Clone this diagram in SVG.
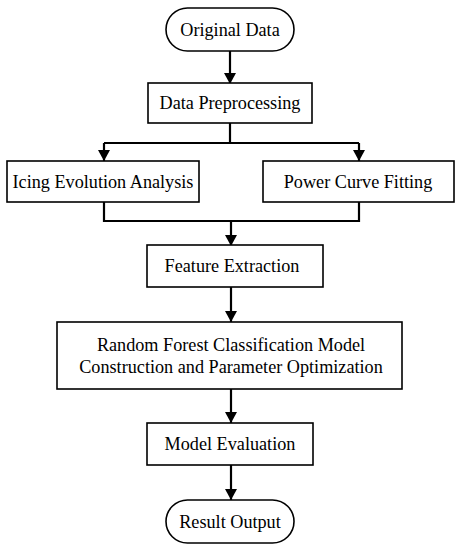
<svg xmlns="http://www.w3.org/2000/svg" width="461" height="550" viewBox="0 0 461 550">
<style>
.box{fill:#fff;stroke:#000;stroke-width:1.6}
.t{font-family:"Liberation Serif","Times New Roman",serif;font-size:18.2px;fill:#000;text-anchor:middle;dominant-baseline:central}
.c{fill:none;stroke:#000;stroke-width:2.2}
</style>
<defs>
<marker id="ah" markerWidth="12" markerHeight="12" refX="11" refY="6" orient="auto" markerUnits="userSpaceOnUse">
<path d="M0,0 L11,6 L0,12 Z" fill="#000"/>
</marker>
</defs>
<rect width="461" height="550" fill="#fff"/>
<g id="connectors">
<path class="c" d="M230,51 V84" marker-end="url(#ah)"/>
<path class="c" d="M230,123 V143"/>
<path class="c" d="M104,143 H359"/>
<path class="c" d="M104,143 V161" marker-end="url(#ah)"/>
<path class="c" d="M359,143 V161" marker-end="url(#ah)"/>
<path class="c" d="M104,202 V221 H359 V202"/>
<path class="c" d="M231,221 V246" marker-end="url(#ah)"/>
<path class="c" d="M231,287 V322" marker-end="url(#ah)"/>
<path class="c" d="M231,389 V423" marker-end="url(#ah)"/>
<path class="c" d="M231,465 V500" marker-end="url(#ah)"/>
</g>
<g id="original-data">
<rect class="box" x="166" y="8" width="128" height="43" rx="21.5"/>
<text class="t" x="230" y="30">Original Data</text>
</g>
<g id="data-preprocessing">
<rect class="box" x="148" y="83" width="164" height="40"/>
<text class="t" x="230" y="103">Data Preprocessing</text>
</g>
<g id="icing-evolution">
<rect class="box" x="7" y="161" width="192" height="41"/>
<text class="t" x="103" y="182">Icing Evolution Analysis</text>
</g>
<g id="power-curve">
<rect class="box" x="263" y="161" width="191" height="41"/>
<text class="t" x="358" y="182">Power Curve Fitting</text>
</g>
<g id="feature-extraction">
<rect class="box" x="147" y="245" width="176" height="42"/>
<text class="t" x="232" y="266">Feature Extraction</text>
</g>
<g id="random-forest">
<rect class="box" x="57" y="322" width="345" height="67"/>
<text class="t" x="231" y="345">Random Forest Classification Model</text>
<text class="t" x="231" y="367">Construction and Parameter Optimization</text>
</g>
<g id="model-evaluation">
<rect class="box" x="147" y="423" width="166" height="42"/>
<text class="t" x="230" y="444">Model Evaluation</text>
</g>
<g id="result-output">
<rect class="box" x="166" y="500" width="128" height="43" rx="21.5"/>
<text class="t" x="230" y="522">Result Output</text>
</g>
</svg>
